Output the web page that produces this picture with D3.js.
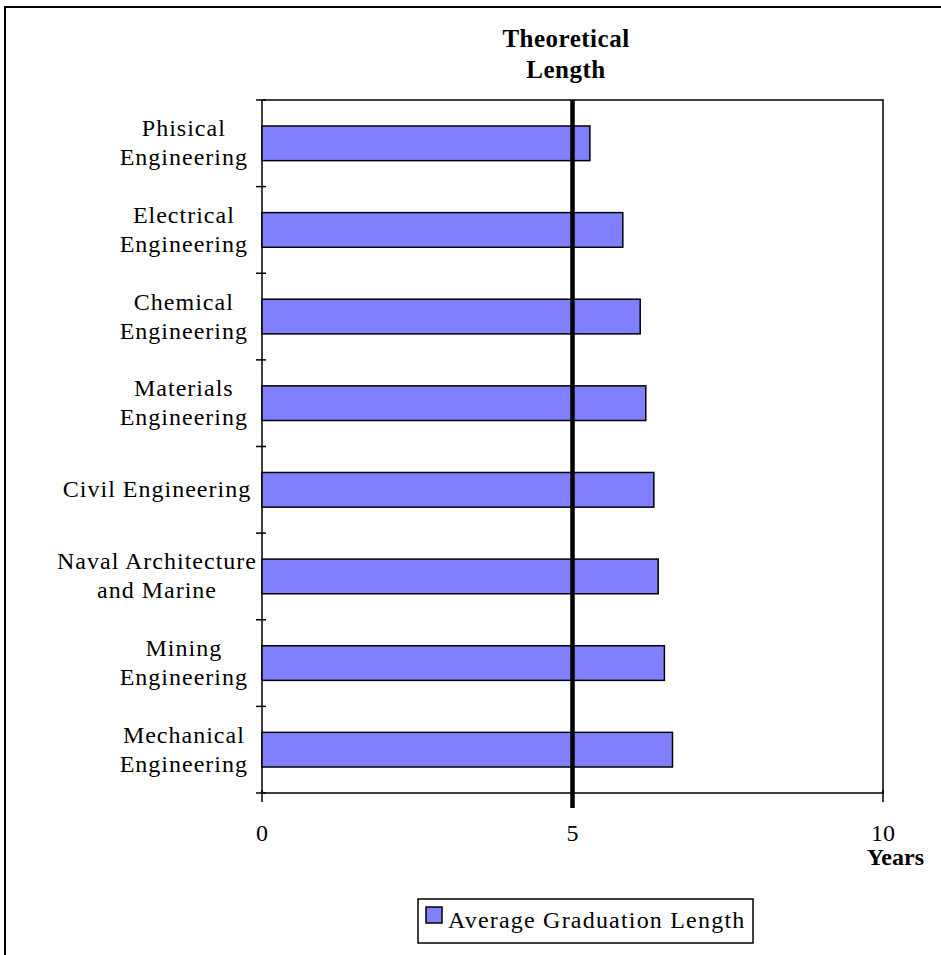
<!DOCTYPE html>
<html>
<head>
<meta charset="utf-8">
<script src="https://cdn.jsdelivr.net/npm/d3@7"></script>
<style>
body { margin: 0; background: #fff; }
text { font-family: "Liberation Serif", "Times New Roman", serif; fill: #000; }
</style>
</head>
<body>
<script>
var w = 941;
var h = 955;

// data
var categories = [
    ["Phisical", "Engineering"],
    ["Electrical", "Engineering"],
    ["Chemical", "Engineering"],
    ["Materials", "Engineering"],
    ["Civil Engineering "],
    ["Naval Architecture", "and Marine"],
    ["Mining", "Engineering"],
    ["Mechanical", "Engineering"]
];
var values = [5.28, 5.81, 6.09, 6.18, 6.31, 6.38, 6.48, 6.61];
var xTicks = [0, 5, 10];
var theoretical = 5;
var seriesName = "Average Graduation Length";

// plot box (window.top is reserved, so plotTop etc.)
var plotLeft = 262, plotRight = 883, plotTop = 100, plotBottom = 793;

var xScale = d3.scaleLinear()
    .domain([0, 10])
    .range([plotLeft, plotRight]);
var yScale = d3.scaleBand()
    .domain(d3.range(categories.length))
    .range([plotTop, plotBottom])
    .paddingInner(0.6)
    .paddingOuter(0.3);
// band boundaries for the category ticks
var yEdge = d3.scaleLinear()
    .domain([0, categories.length])
    .range([plotTop, plotBottom]);

var svg = d3.select("body")
    .append("svg")
    .attr("width", w)
    .attr("height", h);

// outer frame
svg.append("rect")
    .attr("x", 5).attr("y", 7)
    .attr("width", w + 20).attr("height", h + 20)
    .style("fill", "none").style("stroke", "#000").style("stroke-width", 2);

// plot frame
svg.append("rect")
    .attr("x", plotLeft).attr("y", plotTop)
    .attr("width", plotRight - plotLeft).attr("height", plotBottom - plotTop)
    .style("fill", "none").style("stroke", "#000").style("stroke-width", 1.5);

// category ticks on the left axis
svg.selectAll(".ytick")
    .data(d3.range(categories.length + 1))
    .enter()
    .append("line")
    .attr("x1", plotLeft - 6).attr("x2", plotLeft + 4)
    .attr("y1", function(d) { return yEdge(d); })
    .attr("y2", function(d) { return yEdge(d); })
    .style("stroke", "#000").style("stroke-width", 1.5);

// x ticks
svg.selectAll(".xtick")
    .data(xTicks)
    .enter()
    .append("line")
    .attr("x1", function(d) { return xScale(d); })
    .attr("x2", function(d) { return xScale(d); })
    .attr("y1", plotBottom - 3).attr("y2", plotBottom + 9)
    .style("stroke", "#000").style("stroke-width", 1.5);

svg.selectAll(".xlabel")
    .data(xTicks)
    .enter()
    .append("text")
    .attr("x", function(d) { return xScale(d); })
    .attr("y", 841)
    .attr("text-anchor", "middle")
    .style("font-size", "24px")
    .text(function(d) { return d; });

svg.append("text")
    .attr("x", 924).attr("y", 865)
    .attr("text-anchor", "end")
    .style("font-size", "24px").style("font-weight", "bold")
    .text("Years");

// bars
svg.selectAll(".bar")
    .data(values)
    .enter()
    .append("rect")
    .attr("x", xScale(0))
    .attr("y", function(d, i) { return yScale(i); })
    .attr("width", function(d) { return xScale(d) - xScale(0); })
    .attr("height", yScale.bandwidth())
    .style("fill", "#8080ff")
    .style("stroke", "#000").style("stroke-width", 1.5);

// theoretical length line
svg.append("line")
    .attr("x1", xScale(theoretical)).attr("x2", xScale(theoretical))
    .attr("y1", plotTop).attr("y2", plotBottom + 15)
    .style("stroke", "#000").style("stroke-width", 4.5);

svg.append("text")
    .attr("x", 566).attr("y", 47)
    .attr("text-anchor", "middle")
    .style("font-size", "25px").style("font-weight", "bold").style("letter-spacing", "0.5px")
    .text("Theoretical");
svg.append("text")
    .attr("x", 566).attr("y", 78)
    .attr("text-anchor", "middle")
    .style("font-size", "25px").style("font-weight", "bold").style("letter-spacing", "0.5px")
    .text("Length");

// category labels, lines centred on each other, block right edge near the axis
categories.forEach(function(lines, i) {
    var cy = yScale(i) + yScale.bandwidth() / 2;
    var g = svg.append("g");
    var texts = lines.map(function(s, k) {
        return g.append("text")
            .attr("y", cy + 7.5 - 14.5 * (lines.length - 1) + 29 * k)
            .attr("text-anchor", "middle")
            .style("font-size", "24px")
            .style("letter-spacing", "1px")
            .text(s);
    });
    var maxW = d3.max(texts, function(t) { return t.node().getComputedTextLength(); });
    var cx = Math.max(248 - maxW / 2, 157);
    texts.forEach(function(t) { t.attr("x", cx); });
});

// legend
var legend = svg.append("g");
legend.append("rect")
    .attr("x", 418).attr("y", 899)
    .attr("width", 335).attr("height", 44)
    .style("fill", "#fff").style("stroke", "#000").style("stroke-width", 1.5);
legend.append("rect")
    .attr("x", 426).attr("y", 907)
    .attr("width", 16).attr("height", 16)
    .style("fill", "#8080ff").style("stroke", "#000").style("stroke-width", 1.5);
legend.append("text")
    .attr("x", 448).attr("y", 928)
    .style("font-size", "24px").style("letter-spacing", "1.2px")
    .text(seriesName);
</script>
</body>
</html>
